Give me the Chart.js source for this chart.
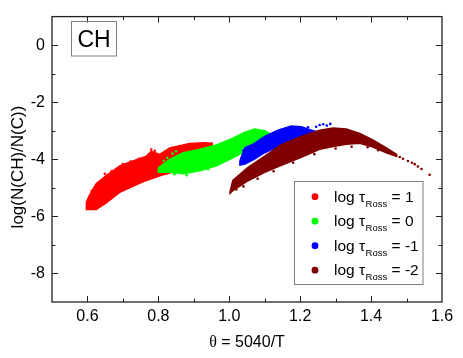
<!DOCTYPE html>
<html>
<head>
<meta charset="utf-8">
<script src="https://cdn.jsdelivr.net/npm/chart.js@4.4.1/dist/chart.umd.min.js"></script>
<style>
  html, body { margin: 0; padding: 0; background: #fff; }
  #wrap { position: relative; width: 463px; height: 358px; }
</style>
</head>
<body>
<div id="wrap"><canvas id="chart" width="463" height="358"></canvas></div>
<script>
// ─── Data ────────────────────────────────────────────
// Each cloud of models is traced by its upper and lower edge.
var redTheta  = [0.597, 0.606, 0.625, 0.653, 0.691, 0.728, 0.766, 0.780, 0.804, 0.832, 0.888, 0.930, 0.952];
var redTop    = [-5.50, -5.25, -4.85, -4.57, -4.23, -4.06, -3.89, -3.72, -3.83, -3.60, -3.45, -3.42, -3.44];
var redBottom = [-5.76, -5.76, -5.76, -5.53, -5.16, -4.95, -4.74, -4.68, -4.58, -4.48, -4.15, -3.75, -3.50];

var greenTheta  = [0.800, 0.832, 0.870, 0.917, 0.964, 1.010, 1.044, 1.072, 1.100, 1.115];
var greenTop    = [-4.30, -4.00, -3.77, -3.65, -3.50, -3.26, -3.05, -2.94, -3.00, -3.10];
var greenBottom = [-4.45, -4.45, -4.51, -4.40, -4.23, -3.95, -3.72, -3.48, -3.25, -3.12];

var blueTheta  = [1.030, 1.044, 1.070, 1.100, 1.137, 1.175, 1.203, 1.232, 1.245];
var blueTop    = [-4.05, -3.60, -3.45, -3.20, -2.98, -2.83, -2.86, -2.98, -3.03];
var blueBottom = [-4.20, -4.17, -4.00, -3.77, -3.55, -3.36, -3.22, -3.07, -3.04];

var brownTheta  = [1.002, 1.010, 1.053, 1.100, 1.147, 1.203, 1.255, 1.293, 1.330, 1.368, 1.405, 1.443, 1.472];
var brownTop    = [-5.15, -4.74, -4.28, -3.89, -3.49, -3.20, -2.98, -2.90, -2.94, -3.09, -3.32, -3.60, -3.83];
var brownBottom = [-5.19, -5.10, -4.75, -4.46, -4.21, -3.93, -3.65, -3.55, -3.47, -3.44, -3.57, -3.77, -3.90];

// loose points outside the main clouds
var redStrayTheta   = [0.649, 0.700, 0.780, 0.612, 0.632, 0.668, 0.722, 0.745, 0.790, 0.860];
var redStrayLog     = [-4.51, -4.17, -3.66, -5.10, -4.92, -4.42, -4.08, -3.98, -3.70, -3.55];
var greenStrayTheta = [0.815, 0.825, 0.840, 0.806, 0.850, 0.845, 0.880, 0.940];
var greenStrayLog   = [-4.05, -3.95, -3.80, -4.38, -3.72, -4.52, -4.56, -4.35];
var blueStrayTheta  = [1.222, 1.245, 1.255, 1.265, 1.275, 1.285, 1.036, 1.040];
var blueStrayLog    = [-2.88, -2.86, -2.80, -2.77, -2.82, -2.76, -3.95, -3.70];
var brownStrayTheta = [1.481, 1.490, 1.504, 1.515, 1.523, 1.532, 1.542, 1.565,
                       1.020, 1.040, 1.080, 1.125, 1.180, 1.240, 1.300, 1.345, 1.390, 1.420];
var brownStrayLog   = [-3.92, -3.98, -4.06, -4.12, -4.17, -4.25, -4.34, -4.54,
                       -5.06, -4.95, -4.68, -4.42, -4.12, -3.82, -3.62, -3.56, -3.58, -3.68];

var xTicks = [0.6, 0.8, 1.0, 1.2, 1.4, 1.6];
var yTicks = [-8, -6, -4, -2, 0];
var legendValues = ['1', '0', '-1', '-2'];
var cloudColors  = ['#ff0000', '#00ff00', '#0000ff', '#800000'];

var FONT = '"Liberation Sans", Arial, sans-serif';

// ─── Helpers ─────────────────────────────────────────
function outline(theta, top, bottom) {
  var pts = [];
  for (var i = 0; i < theta.length; i++) pts.push({ x: theta[i], y: top[i] });
  for (var j = theta.length - 1; j >= 0; j--) pts.push({ x: theta[j], y: bottom[j] });
  pts.push({ x: theta[0], y: top[0] });
  return pts;
}

function pairs(xs, ys) {
  return xs.map(function(x, i) { return { x: x, y: ys[i] }; });
}

function cloud(pts, color, order) {
  return {
    data: pts, showLine: true, fill: 'shape', tension: 0,
    borderColor: color, backgroundColor: color, borderWidth: 1.5,
    pointRadius: 0, order: order
  };
}

function stray(pts, color, order) {
  return {
    data: pts, showLine: false,
    pointRadius: 1.3, pointBackgroundColor: color, pointBorderWidth: 0,
    order: order
  };
}

// ─── Frame, ticks, titles, boxes ─────────────────────
var decorations = {
  id: 'decorations',
  afterDraw: function(chart) {
    var ctx = chart.ctx;
    var a = chart.chartArea;
    var xs = chart.scales.x, ys = chart.scales.y;
    ctx.save();

    // frame
    ctx.strokeStyle = '#222';
    ctx.lineWidth = 1.3;
    ctx.strokeRect(a.left, a.top, a.right - a.left, a.bottom - a.top);

    // inward ticks on all four sides
    ctx.lineWidth = 1;
    ctx.beginPath();
    for (var v = 0.5; v <= 1.6001; v += 0.1) {
      var px = Math.round(xs.getPixelForValue(v)) + 0.5;
      var major = Math.abs(Math.round(v * 10) % 2) === 0;
      var len = major ? 6 : 3.5;
      if (px < a.left + 2 || px > a.right - 2) continue;
      ctx.moveTo(px, a.bottom); ctx.lineTo(px, a.bottom - len);
      ctx.moveTo(px, a.top);    ctx.lineTo(px, a.top + len);
    }
    for (var w = -9; w <= 1; w++) {
      var py = Math.round(ys.getPixelForValue(w)) + 0.5;
      var lenY = (w % 2 === 0) ? 6 : 3.5;
      if (py < a.top + 2 || py > a.bottom - 2) continue;
      ctx.moveTo(a.left, py);  ctx.lineTo(a.left + lenY, py);
      ctx.moveTo(a.right, py); ctx.lineTo(a.right - lenY, py);
    }
    ctx.stroke();

    // axis titles
    ctx.fillStyle = '#000';
    ctx.textBaseline = 'alphabetic';
    ctx.font = '16px "Liberation Serif", "Times New Roman", serif';
    var thetaW = ctx.measureText('\u03B8').width;
    ctx.font = '16px ' + FONT;
    var restW = ctx.measureText(' = 5040/T').width;
    var cx = (a.left + a.right) / 2;
    var x0 = cx - (thetaW + restW) / 2;
    ctx.textAlign = 'left';
    ctx.font = '16px "Liberation Serif", "Times New Roman", serif';
    ctx.fillText('\u03B8', x0, 346.5);
    ctx.font = '16px ' + FONT;
    ctx.fillText(' = 5040/T', x0 + thetaW, 346.5);

    ctx.save();
    ctx.translate(18, 167);
    ctx.rotate(-Math.PI / 2);
    ctx.textAlign = 'center';
    ctx.textBaseline = 'middle';
    ctx.font = '17px ' + FONT;
    ctx.fillText('log(N(CH)/N(C))', 0, 0);
    ctx.restore();

    // CH label box
    ctx.strokeStyle = '#808080';
    ctx.lineWidth = 1;
    ctx.strokeRect(71.5, 21.5, 45, 34.5);
    ctx.font = '23px ' + FONT;
    ctx.textAlign = 'center';
    ctx.textBaseline = 'alphabetic';
    ctx.fillText('CH', 94, 47);

    // legend box
    ctx.strokeRect(294.5, 181.5, 128.5, 103);
    ctx.textAlign = 'left';
    for (var k = 0; k < legendValues.length; k++) {
      var yc = 196.7 + k * 24.5;
      ctx.fillStyle = cloudColors[k];
      ctx.beginPath();
      ctx.arc(315, yc, 3.4, 0, Math.PI * 2);
      ctx.fill();
      ctx.fillStyle = '#000';
      var base = yc + 5;
      var tx = 334;
      ctx.font = '15.5px ' + FONT;
      ctx.fillText('log \u03C4', tx, base);
      tx += ctx.measureText('log \u03C4').width + 0.5;
      ctx.font = '9.5px ' + FONT;
      ctx.fillText('Ross', tx, base + 5);
      tx += ctx.measureText('Ross').width;
      ctx.font = '15.5px ' + FONT;
      ctx.fillText(' = ' + legendValues[k], tx, base);
    }
    ctx.restore();
  }
};

// ─── Chart ───────────────────────────────────────────
new Chart(document.getElementById('chart').getContext('2d'), {
  type: 'scatter',
  data: {
    datasets: [
      cloud(outline(redTheta, redTop, redBottom), cloudColors[0], 8),
      stray(pairs(redStrayTheta, redStrayLog), cloudColors[0], 7),
      cloud(outline(greenTheta, greenTop, greenBottom), cloudColors[1], 6),
      stray(pairs(greenStrayTheta, greenStrayLog), cloudColors[1], 5),
      cloud(outline(blueTheta, blueTop, blueBottom), cloudColors[2], 4),
      stray(pairs(blueStrayTheta, blueStrayLog), cloudColors[2], 3),
      cloud(outline(brownTheta, brownTop, brownBottom), cloudColors[3], 2),
      stray(pairs(brownStrayTheta, brownStrayLog), cloudColors[3], 1)
    ]
  },
  options: {
    responsive: false,
    animation: false,
    layout: { padding: { top: 8, right: 21, left: 0, bottom: 0 } },
    plugins: { legend: { display: false }, tooltip: { enabled: false } },
    scales: {
      x: {
        type: 'linear', min: 0.5, max: 1.6,
        afterBuildTicks: function(s) { s.ticks = xTicks.map(function(v) { return { value: v }; }); },
        afterFit: function(s) { s.height = 56; },
        grid: { display: false, drawTicks: false },
        border: { display: false },
        ticks: {
          color: '#000', padding: 5, maxRotation: 0, autoSkip: false,
          font: { family: FONT, size: 16 },
          callback: function(v) { return v.toFixed(1); }
        }
      },
      y: {
        type: 'linear', min: -9, max: 1,
        afterBuildTicks: function(s) { s.ticks = yTicks.map(function(v) { return { value: v }; }); },
        afterFit: function(s) { s.width = 52; },
        grid: { display: false, drawTicks: false },
        border: { display: false },
        ticks: {
          color: '#000', padding: 7, autoSkip: false,
          font: { family: FONT, size: 16 },
          callback: function(v) { return String(v); }
        }
      }
    }
  },
  plugins: [decorations]
});
</script>
</body>
</html>
